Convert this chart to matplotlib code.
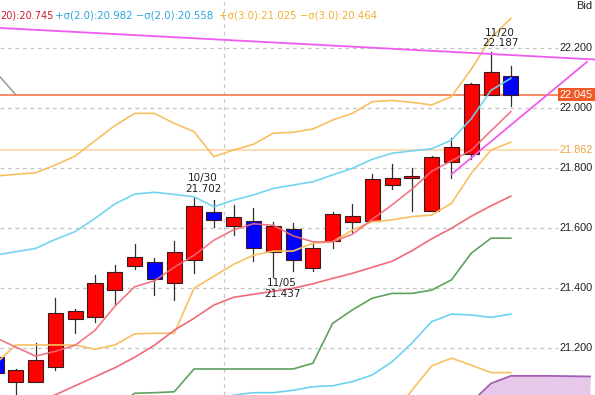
import matplotlib
matplotlib.use("Agg")
import matplotlib.pyplot as plt
from matplotlib.patches import Rectangle

# ---------------- data ----------------
idx = list(range(27))
opens = [21.172, 21.087, 21.087, 21.139, 21.297, 21.303, 21.394, 21.475, 21.489, 21.417,
         21.494, 21.653, 21.606, 21.625, 21.522, 21.597, 21.469, 21.558, 21.620, 21.625,
         21.744, 21.767, 21.659, 21.820, 21.847, 22.044, 22.108]
closes = [21.117, 21.128, 21.161, 21.317, 21.324, 21.417, 21.455, 21.503, 21.430, 21.522,
          21.675, 21.628, 21.639, 21.533, 21.609, 21.494, 21.535, 21.646, 21.642, 21.763,
          21.769, 21.775, 21.837, 21.872, 22.081, 22.120, 22.045]
highs = [21.190, 21.130, 21.217, 21.367, 21.330, 21.444, 21.478, 21.548, 21.500, 21.556,
         21.702, 21.694, 21.678, 21.667, 21.622, 21.617, 21.550, 21.653, 21.681, 21.780,
         21.814, 21.802, 21.841, 21.900, 22.083, 22.187, 22.141]
lows = [21.100, 21.020, 21.087, 21.128, 21.250, 21.289, 21.348, 21.463, 21.378, 21.361,
        21.450, 21.605, 21.578, 21.492, 21.437, 21.458, 21.459, 21.533, 21.589, 21.625,
        21.731, 21.659, 21.659, 21.767, 21.830, 22.044, 22.008]

bb_up3 = [21.774, 21.780, 21.785, 21.811, 21.841, 21.892, 21.942, 21.983, 21.983, 21.950,
          21.922, 21.839, 21.861, 21.880, 21.917, 21.920, 21.931, 21.961, 21.983, 22.022,
          22.026, 22.020, 22.011, 22.039, 22.130, 22.235, 22.300]
bb_up2 = [21.511, 21.522, 21.533, 21.563, 21.589, 21.633, 21.681, 21.714, 21.720, 21.713,
          21.705, 21.672, 21.694, 21.711, 21.733, 21.744, 21.755, 21.778, 21.800, 21.830,
          21.850, 21.858, 21.865, 21.894, 21.965, 22.060, 22.100]
ma5 = [21.235, 21.204, 21.174, 21.190, 21.210, 21.260, 21.340, 21.405, 21.425, 21.470,
       21.510, 21.560, 21.595, 21.615, 21.610, 21.575, 21.555, 21.555, 21.580, 21.630,
       21.678, 21.730, 21.790, 21.825, 21.860, 21.925, 21.989]
bb_mid = [20.980, 21.000, 21.020, 21.045, 21.075, 21.105, 21.135, 21.170, 21.210, 21.260,
          21.300, 21.344, 21.370, 21.380, 21.390, 21.400, 21.415, 21.433, 21.450, 21.470,
          21.490, 21.525, 21.565, 21.600, 21.640, 21.675, 21.707]
bb_dn2 = [20.46, 20.48, 20.51, 20.53, 20.56, 20.58, 20.60, 20.63, 20.70, 20.80,
          20.87, 21.000, 21.044, 21.052, 21.052, 21.060, 21.072, 21.075, 21.089, 21.111,
          21.155, 21.217, 21.289, 21.314, 21.311, 21.303, 21.314]
bb_dn3 = [20.20, 20.22, 20.25, 20.28, 20.31, 20.33, 20.37, 20.37, 20.40, 20.50,
          20.62, 20.84, 20.88, 20.87, 20.88, 20.88, 20.89, 20.90, 20.91, 20.90,
          20.97, 21.06, 21.141, 21.167, 21.144, 21.119, 21.119]
tenkan = [21.150, 21.211, 21.211, 21.211, 21.211, 21.197, 21.211, 21.248, 21.250, 21.250,
          21.400, 21.440, 21.480, 21.510, 21.524, 21.524, 21.550, 21.555, 21.594, 21.622,
          21.628, 21.639, 21.644, 21.683, 21.783, 21.861, 21.887]
kijun = [20.95, 20.96, 20.97, 20.98, 20.99, 21.00, 21.00, 21.050, 21.052, 21.055,
         21.131, 21.131, 21.131, 21.131, 21.131, 21.131, 21.150, 21.283, 21.328, 21.367,
         21.383, 21.383, 21.394, 21.428, 21.517, 21.567, 21.567]

cloud_x = [24, 25, 26, 27, 28, 29, 30]
cloud_top = [21.020, 21.083, 21.108, 21.108, 21.108, 21.107, 21.106]
cloud_bot = [20.95, 20.95, 20.95, 20.95, 20.95, 20.95, 20.95]

chikou_x = [0, 1]
chikou = [22.120, 22.045]

trend_up_x = [-1, 31]
trend_up = [22.272, 22.160]
trend_dn_x = [23.0, 29.85]
trend_dn = [21.780, 22.155]

price_now = 22.045
level_line = 21.862

tick_vals = [22.2, 22.0, 21.8, 21.6, 21.4, 21.2]
tick_labels = ["22.200", "22.000", "21.800", "21.600", "21.400", "21.200"]

annotations = [(10, "10/30\n21.702", "high"), (14, "11/05\n21.437", "low"),
               (25, "11/20\n22.187", "high")]

month_sep = 11.5

legend_parts = [("20):20.745", "#d0182c"),
                ("+σ(2.0):20.982 −σ(2.0):20.558", "#2aa6dc"),
                ("+σ(3.0):21.025 −σ(3.0):20.464", "#f0b030")]

# ---------------- figure ----------------
W, H, DPI = 595, 395, 100
fig = plt.figure(figsize=(W / DPI, H / DPI), dpi=DPI)
fig.patch.set_facecolor("white")
ax = fig.add_axes([0, 0, 1, 1])
ax.set_axis_off()
ax.set_xlim(0.202, 30.25)
ax.set_ylim(21.0443, 22.361)

grid_end = 558 / W
for v in tick_vals:
    ax.axhline(v, xmin=0, xmax=grid_end, color="#c4c4c4", lw=0.9,
               ls=(0, (3, 3)), zorder=1)
ax.axvline(month_sep, color="#c8c8c8", lw=0.9, ls=(0, (3, 3)), zorder=1)

# cloud
ax.fill_between(cloud_x, cloud_bot, cloud_top, color="#e8c8e8", lw=0, zorder=2)
ax.plot(cloud_x, cloud_top, color="#a45cb4", lw=1.3, zorder=3)

# horizontal price lines
ax.axhline(level_line, xmin=0, xmax=grid_end, color="#ffd4a8", lw=1.2, zorder=2)
ax.axhline(price_now, xmin=0, xmax=grid_end, color="#f4845a", lw=1.3, zorder=2)

# candles
bw = 0.76
for i, o, c, h, l in zip(idx, opens, closes, highs, lows):
    ax.plot([i, i], [l, h], color="#303030", lw=0.9, zorder=4)
    up = c >= o
    fc = "#ff0000" if up else "#0000ff"
    bottom = min(o, c)
    height = max(abs(c - o), 0.006)
    ax.add_patch(Rectangle((i - bw / 2, bottom), bw, height, facecolor=fc,
                           edgecolor="#3a1a1a", lw=0.8, zorder=5))

# indicator lines (on top of candles)
lw = 1.2
ax.plot(idx, bb_up3, color="#f8c060", lw=lw, zorder=6)
ax.plot(idx, bb_dn3, color="#f8c060", lw=lw, zorder=6)
ax.plot(idx, tenkan, color="#f8c060", lw=lw, zorder=6)
ax.plot(idx, bb_up2, color="#6cd2f0", lw=lw, zorder=6, alpha=0.95)
ax.plot(idx, bb_dn2, color="#6cd2f0", lw=lw, zorder=6)
ax.plot(idx, ma5, color="#f06a78", lw=lw, zorder=6, alpha=0.9)
ax.plot(idx, bb_mid, color="#f06a78", lw=lw, zorder=6)
ax.plot(idx, kijun, color="#5ea25e", lw=lw, zorder=6)
ax.plot(chikou_x, chikou, color="#9a9a9a", lw=1.1, zorder=6)

ax.plot(trend_up_x, trend_up, color="#ee5cee", lw=1.3, zorder=7)
ax.plot(trend_dn_x, trend_dn, color="#ee5cee", lw=1.3, zorder=7)

# annotations
for i, txt, where in annotations:
    if where == "high":
        ax.annotate(txt, (i, highs[i]), xytext=(9, 4), textcoords="offset pixels",
                    ha="center", va="bottom", fontsize=7.5, color="#202020",
                    linespacing=1.05, zorder=9)
    else:
        ax.annotate(txt, (i, lows[i]), xytext=(9, -1), textcoords="offset pixels",
                    ha="center", va="top", fontsize=7.5, color="#202020",
                    linespacing=1.05, zorder=9)

# right side labels
lab_font = "Liberation Sans"
lab_x = 560 / W
for v, t in zip(tick_vals, tick_labels):
    ax.text(lab_x, v, t, transform=ax.get_yaxis_transform(), ha="left", va="center",
            fontsize=7.8, family=lab_font, color="#202020", zorder=9, clip_on=False)
ax.text(lab_x, price_now, "22.045", transform=ax.get_yaxis_transform(), ha="left",
        va="center", fontsize=7.8, family=lab_font, color="white", zorder=10,
        bbox=dict(boxstyle="square,pad=0.15", fc="#f05a28", ec="none"))
ax.text(lab_x, level_line, "21.862", transform=ax.get_yaxis_transform(), ha="left",
        va="center", fontsize=7.8, family=lab_font, color="#f0a040", zorder=9)

fig.text(576 / W, 1 - 9 / H, "Bid", ha="left", va="baseline", fontsize=8,
         family=lab_font, color="#202020")

# legend text
leg_x = [0, 55, 219]
leg_size = [7.0, 7.3, 7.3]
for (t, col), x, fs in zip(legend_parts, leg_x, leg_size):
    fig.text(x / W, 1 - 15 / H, t, ha="left", va="center", fontsize=fs, color=col)

fig.savefig("out.png", dpi=DPI, facecolor="white")
